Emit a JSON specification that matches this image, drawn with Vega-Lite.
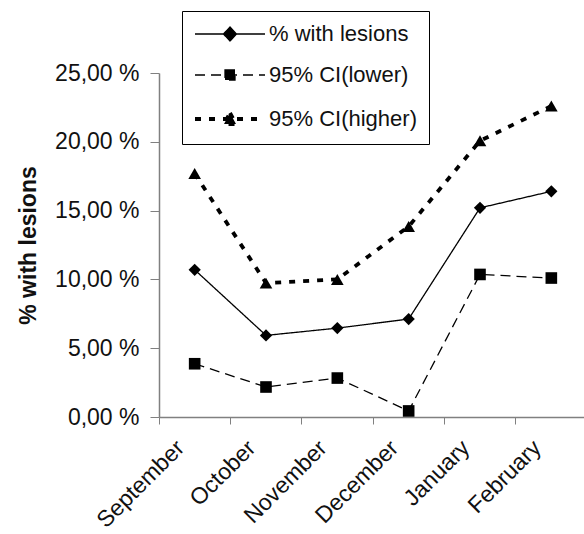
{
  "$schema": "https://vega.github.io/schema/vega-lite/v6.json",
  "width": 428,
  "height": 344,
  "autosize": "none",
  "padding": {"left": 159, "top": 73, "right": 0, "bottom": 117},
  "background": "white",
  "config": {
    "view": {"stroke": null},
    "font": "Liberation Sans"
  },
  "data": {
    "values": [
      {"month": "September", "series": "% with lesions", "value": 10.7},
      {"month": "October", "series": "% with lesions", "value": 5.93},
      {"month": "November", "series": "% with lesions", "value": 6.46},
      {"month": "December", "series": "% with lesions", "value": 7.12},
      {"month": "January", "series": "% with lesions", "value": 15.2},
      {"month": "February", "series": "% with lesions", "value": 16.4},
      {"month": "September", "series": "95% CI(lower)", "value": 3.87},
      {"month": "October", "series": "95% CI(lower)", "value": 2.18},
      {"month": "November", "series": "95% CI(lower)", "value": 2.83},
      {"month": "December", "series": "95% CI(lower)", "value": 0.44},
      {"month": "January", "series": "95% CI(lower)", "value": 10.36},
      {"month": "February", "series": "95% CI(lower)", "value": 10.1},
      {"month": "September", "series": "95% CI(higher)", "value": 17.7},
      {"month": "October", "series": "95% CI(higher)", "value": 9.73},
      {"month": "November", "series": "95% CI(higher)", "value": 10.0},
      {"month": "December", "series": "95% CI(higher)", "value": 13.85},
      {"month": "January", "series": "95% CI(higher)", "value": 20.07},
      {"month": "February", "series": "95% CI(higher)", "value": 22.6}
    ]
  },
  "encoding": {
    "x": {
      "field": "month",
      "type": "nominal",
      "sort": ["September", "October", "November", "December", "January", "February"],
      "scale": {"type": "band", "paddingInner": 0, "paddingOuter": 0},
      "axis": {
        "title": null,
        "bandPosition": 0,
        "labelAngle": -45,
        "labelAlign": "right",
        "labelBaseline": "middle",
        "labelOffset": -14,
        "labelPadding": 20,
        "labelFontSize": 23,
        "labelColor": "#111",
        "labelFont": "Liberation Sans",
        "labelOverlap": false,
        "labelBound": false,
        "domainColor": "#808080",
        "domainWidth": 1.5,
        "tickColor": "#808080",
        "tickSize": 7,
        "tickWidth": 1,
        "grid": false
      }
    },
    "y": {
      "field": "value",
      "type": "quantitative",
      "scale": {"domain": [0, 25], "nice": false, "zero": true},
      "axis": {
        "title": "% with lesions",
        "titleFontSize": 23,
        "titleFontWeight": "bold",
        "titleColor": "#111",
        "titleFont": "Liberation Sans",
        "titlePadding": 14,
        "values": [0, 5, 10, 15, 20, 25],
        "labelExpr": "replace(format(datum.value, '.2f'), '.', ',') + ' %'",
        "labelFontSize": 23,
        "labelColor": "#111",
        "labelFont": "Liberation Sans",
        "labelPadding": 11,
        "labelOverlap": false,
        "domainColor": "#808080",
        "domainWidth": 1.5,
        "tickColor": "#808080",
        "tickSize": 9,
        "grid": false
      }
    }
  },
  "layer": [
    {
      "transform": [{"filter": "datum.series !== '95% CI(higher)'"}],
      "mark": {"type": "line", "color": "#000", "strokeWidth": 1.3},
      "encoding": {
        "detail": {"field": "series"},
        "strokeDash": {
          "field": "series",
          "type": "nominal",
          "scale": {
            "domain": ["% with lesions", "95% CI(lower)", "95% CI(higher)"],
            "range": [[1, 0], [10, 6], [6, 8]]
          },
          "legend": {
            "title": null,
            "orient": "none",
            "legendX": 23,
            "legendY": -62,
            "strokeColor": "#000",
            "fillColor": "white",
            "padding": 12,
            "symbolSize": 400,
            "symbolFillColor": "#000",
            "symbolStrokeColor": "#000",
            "labelOffset": 53,
            "labelFontSize": 22,
            "labelColor": "#111",
            "labelFont": "Liberation Sans",
            "rowPadding": 19,
            "encode": {
              "symbols": {
                "update": {
                  "shape": {"signal": "datum.value === '% with lesions' ? 'M-1,0L6,0M2.5,-0.7L3.15,0L2.5,0.7L1.85,0Z' : datum.value === '95% CI(lower)' ? 'M-1,0L6,0M2,-0.5L3,-0.5L3,0.5L2,0.5Z' : 'M-1,0L6,0M2.5,-0.6L3.1,0.5L1.9,0.5Z'"},
                  "strokeWidth": {"signal": "datum.value === '95% CI(higher)' ? 3.8 : 1.3"},
                  "fill": {"value": "#000"},
                  "stroke": {"value": "#000"},
                  "opacity": {"value": 1}
                }
              }
            }
          }
        }
      }
    },
    {
      "transform": [{"filter": "datum.series === '95% CI(higher)'"}],
      "mark": {"type": "line", "color": "#000", "strokeWidth": 3.8, "strokeDash": [6, 8]},
      "encoding": {}
    },
    {
      "transform": [{"filter": "datum.series === '% with lesions'"}],
      "mark": {"type": "point", "filled": true, "opacity": 1, "color": "#000", "size": 150, "shape": "diamond"}
    },
    {
      "transform": [{"filter": "datum.series === '95% CI(lower)'"}],
      "mark": {"type": "point", "filled": true, "opacity": 1, "color": "#000", "size": 135, "shape": "square"}
    },
    {
      "transform": [{"filter": "datum.series === '95% CI(higher)'"}],
      "mark": {"type": "point", "filled": true, "opacity": 1, "color": "#000", "size": 160, "shape": "triangle-up"}
    }
  ]
}
